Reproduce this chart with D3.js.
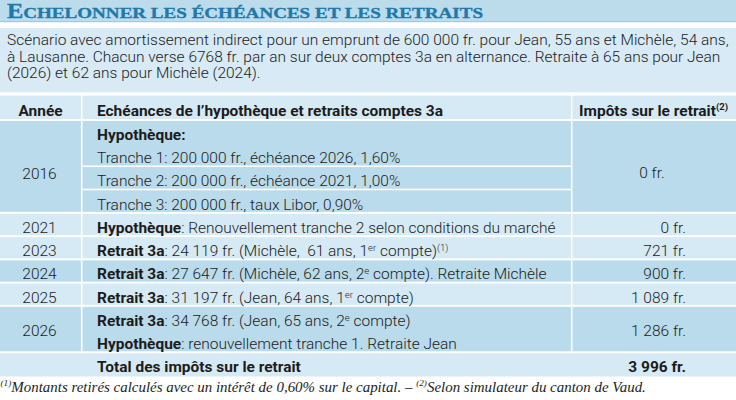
<!DOCTYPE html>
<html>
<head>
<meta charset="utf-8">
<script src="https://cdn.jsdelivr.net/npm/d3@7"></script>
<style>
  body { margin: 0; background: #fff; }
  svg { display: block; }
</style>
</head>
<body>
<svg id="chart" width="736" height="400"></svg>
<script>
// ---------------- DATA ----------------
const titleText = "Echelonner les échéances et les retraits";
const introLines = [
  "Scénario avec amortissement indirect pour un emprunt de 600 000 fr. pour Jean, 55 ans et Michèle, 54 ans,",
  "à Lausanne. Chacun verse 6768 fr. par an sur deux comptes 3a en alternance. Retraite à 65 ans pour Jean",
  "(2026) et 62 ans pour Michèle (2024)."
];
const headers = ["Année", "Echéances de l’hypothèque et retraits comptes 3a", "Impôts sur le retrait^(2)^"];
const years = ["2016", "2021", "2023", "2024", "2025", "2026"];
const descriptions = [
  ["**Hypothèque:**",
   "Tranche 1: 200 000 fr., échéance 2026, 1,60%",
   "Tranche 2: 200 000 fr., échéance 2021, 1,00%",
   "Tranche 3: 200 000 fr., taux Libor, 0,90%"],
  ["**Hypothèque**: Renouvellement tranche 2 selon conditions du marché"],
  ["**Retrait 3a**: 24 119 fr. (Michèle,  61 ans, 1^er^ compte)^(1)^"],
  ["**Retrait 3a**: 27 647 fr. (Michèle, 62 ans, 2^e^ compte). Retraite Michèle"],
  ["**Retrait 3a**: 31 197 fr. (Jean, 64 ans, 1^er^ compte)"],
  ["**Retrait 3a**: 34 768 fr. (Jean, 65 ans, 2^e^ compte)",
   "**Hypothèque**: renouvellement tranche 1. Retraite Jean"]
];
const taxes = [0, 0, 721, 900, 1089, 1286];
const totalLabel = "Total des impôts sur le retrait";
const footnote = "^(1)^Montants retirés calculés avec un intérêt de 0,60% sur le capital. – ^(2)^Selon simulateur du canton de Vaud.";

// ---------------- STYLE ----------------
const W = 736, H = 400;
const C = {
  titleBg: "#bcdcec", titleRule: "#a3c9df", intro: "#d7eaf5",
  light: "#d6eaf5", dark: "#badbeb", title: "#1f79aa", ink: "#1c1c1c"
};
const SANS = "Roboto, 'Liberation Sans', sans-serif";
const SERIF = "'Liberation Serif', 'DejaVu Serif', serif";
const chf = d3.formatLocale({ decimal: ",", thousands: "\u00a0", grouping: [3], currency: ["", ""] }).format(",d");

const svg = d3.select("#chart");
svg.append("rect").attr("width", W).attr("height", H).attr("fill", "#fff");

// rich text helper: **bold**, ^superscript^
function parse(str) {
  return str.split(/(\*\*[^*]+\*\*|\^[^^]+\^)/).filter(s => s.length).map(s => {
    if (s.startsWith("**")) return { t: s.slice(2, -2), b: true };
    if (s.startsWith("^")) return { t: s.slice(1, -1), sup: true };
    return { t: s };
  });
}
function rich(parent, str, o) {
  const size = o.size || 14;
  const t = parent.append("text")
    .attr("transform", `translate(${o.x},${o.y}) scale(${o.sx || 1},1)`)
    .attr("text-anchor", o.anchor || "start")
    .attr("font-family", o.family || SANS)
    .attr("font-size", size)
    .attr("font-weight", o.weight || 300)
    .attr("font-style", o.style || "normal")
    .attr("fill", o.fill || C.ink)
    .style("white-space", "pre");
  const shift = size * 0.36;
  let pending = 0;
  parse(str).forEach(p => {
    const ts = t.append("tspan").text(p.t);
    if (p.b) ts.attr("font-weight", 700);
    if (p.sup) {
      ts.attr("font-size", size * 0.62).attr("dy", -shift + pending);
      pending = shift;
    } else {
      if (pending) ts.attr("dy", pending);
      pending = 0;
    }
  });
  return t;
}

// ---------------- TITLE ----------------
svg.append("rect").attr("x", 0).attr("y", 0).attr("width", W).attr("height", 21).attr("fill", C.titleBg);
svg.append("rect").attr("x", 0).attr("y", 21).attr("width", W).attr("height", 1.2).attr("fill", C.titleRule);
const tt = svg.append("text")
  .attr("x", 7).attr("y", 17.6)
  .attr("font-family", SERIF).attr("font-weight", 700).attr("fill", C.title)
  .attr("stroke", C.title).attr("stroke-width", 0.35)
  .attr("textLength", 476).attr("lengthAdjust", "spacingAndGlyphs");
tt.append("tspan").attr("font-size", 20).text(titleText[0].toUpperCase());
tt.append("tspan").attr("font-size", 15.6).text(titleText.slice(1).toUpperCase());

// ---------------- INTRO ----------------
svg.append("rect").attr("x", 0).attr("y", 28).attr("width", W).attr("height", 64.3).attr("fill", C.intro);
// calibrate condensed width on the first intro line
const probe = rich(svg, introLines[0], { x: 7, y: 45 });
const natural = probe.node().getComputedTextLength();
const SX = 722 / natural;
probe.remove();
const introY = d3.scaleLinear().domain([0, 1]).range([45, 61.5]);
introLines.forEach((l, i) => rich(svg, l, { x: 7, y: introY(i), sx: SX }));

// ---------------- TABLE ----------------
const colEdges = [0, 82.5, 572.5, W];
const gap = 1.6;
const lineCounts = descriptions.map(d => d.length);
const starts = d3.cumsum([0, ...lineCounts]);
const nLines = d3.sum(lineCounts) + 1;
const y = d3.scaleLinear().domain([0, nLines]).range([121, 376.5]);
const base = k => y(k) + 19;
const darkRows = new Set([0, 3, 5]);

function cellRects(top, bottom, fill, full) {
  if (full) {
    svg.append("rect").attr("x", 0).attr("y", top).attr("width", W).attr("height", bottom - top).attr("fill", fill);
    return;
  }
  for (let c = 0; c < 3; c++) {
    const x0 = colEdges[c], x1 = c < 2 ? colEdges[c + 1] - gap : colEdges[c + 1];
    svg.append("rect").attr("x", x0).attr("y", top).attr("width", x1 - x0).attr("height", bottom - top).attr("fill", fill);
  }
}

// header
cellRects(95.6, 119, C.light, false);
rich(svg, headers[0], { x: 40.5, y: 115.5, anchor: "middle", weight: 700, sx: SX });
rich(svg, headers[1], { x: 97, y: 115.5, weight: 700, sx: SX });
rich(svg, headers[2], { x: 579, y: 115.5, weight: 700, sx: SX });

// body rows
descriptions.forEach((lines, i) => {
  const s = starts[i], e = s + lines.length;
  const top = y(s), bottom = y(e) - 2;
  const fill = darkRows.has(i) ? C.dark : C.light;
  cellRects(top, bottom, fill, false);
  if (i === 0) {
    // rules between the tranche lines
    for (let k = s + 2; k < e; k++) {
      svg.append("rect").attr("x", colEdges[1]).attr("y", y(k) - 2)
        .attr("width", colEdges[2] - gap - colEdges[1]).attr("height", 1.6).attr("fill", "#fff");
    }
  }
  lines.forEach((l, j) => rich(svg, l, { x: 97, y: base(s + j), sx: SX }));
  const mid = lines.length === 1 ? base(s) : (top + bottom) / 2 + (i === 0 ? 12.5 : 7);
  rich(svg, years[i], { x: 39.5, y: mid, anchor: "middle", sx: SX });
  if (i === 0) rich(svg, chf(taxes[i]) + " fr.", { x: 652, y: mid - 1, anchor: "middle", sx: SX });
  else rich(svg, chf(taxes[i]) + " fr.", { x: 686, y: mid, anchor: "end", sx: SX });
});

// total row
const tTop = y(nLines - 1), tBot = y(nLines);
cellRects(tTop, tBot, C.light, true);
rich(svg, "**" + totalLabel + "**", { x: 97, y: base(nLines - 1) - 0.5, sx: SX });
rich(svg, "**" + chf(d3.sum(taxes)) + " fr.**", { x: 686, y: base(nLines - 1) - 0.5, anchor: "end", sx: SX });

// ---------------- FOOTNOTE ----------------
const fprobe = rich(svg, footnote, { x: 0.5, y: 391.5, family: SERIF, style: "italic", weight: 400, size: 14 });
const fsx = 645.5 / fprobe.node().getComputedTextLength();
fprobe.remove();
rich(svg, footnote, { x: 0.5, y: 391.5, family: SERIF, style: "italic", weight: 400, size: 14, sx: fsx, fill: "#1c1c1c" });
</script>
</body>
</html>
